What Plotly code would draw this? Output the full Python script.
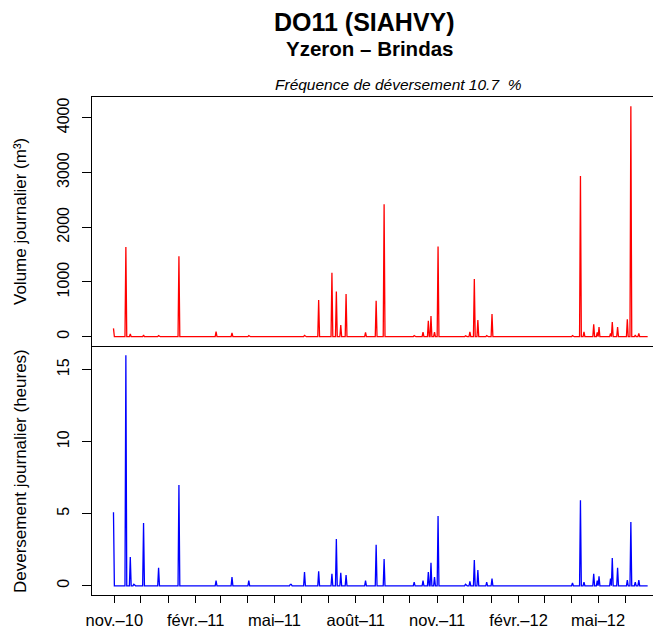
import pandas as pd
import plotly.graph_objects as go

# ---- data ----
event_dates = [
    "2010-10-31", "2010-11-14", "2010-11-19", "2010-11-23", "2010-12-04",
    "2010-12-21", "2011-01-13", "2011-02-24", "2011-03-14", "2011-04-02",
    "2011-05-19", "2011-05-20", "2011-06-04", "2011-06-20", "2011-07-05",
    "2011-07-10", "2011-07-15", "2011-07-21", "2011-08-12", "2011-08-24",
    "2011-09-02", "2011-10-06", "2011-10-16", "2011-10-22", "2011-10-25",
    "2011-10-29", "2011-11-02", "2011-12-03", "2011-12-08", "2011-12-13",
    "2011-12-17", "2011-12-27", "2012-01-02", "2012-04-02", "2012-04-11",
    "2012-04-15", "2012-04-26", "2012-04-30", "2012-05-02", "2012-05-15",
    "2012-05-17", "2012-05-23", "2012-06-03", "2012-06-07", "2012-06-12",
    "2012-06-16",
]
volume_m3 = [
    153, 1641, 50, 10, 30,
    20, 1471, 91, 70, 20,
    5, 5, 25, 669, 1167,
    827, 213, 778, 80, 656,
    2419, 20, 85, 292, 377,
    85, 1648, 15, 90, 1052,
    304, 20, 413, 20, 2935,
    90, 226, 80, 177, 60,
    268, 177, 317, 4211, 30,
    60,
]
duration_h = [
    5.1, 16.0, 2.0, 0.1, 4.36,
    1.25, 7.0, 0.35, 0.6, 0.35,
    0.1, 0.1, 0.95, 1.0, 0.83,
    3.25, 0.9, 0.75, 0.35, 2.84,
    1.85, 0.25, 0.35, 0.95, 1.6,
    0.6, 4.85, 0.1, 0.3, 1.78,
    1.1, 0.25, 0.5, 0.2, 5.93,
    0.25, 0.83, 0.35, 0.65, 0.5,
    1.93, 1.25, 0.4, 4.43, 0.25,
    0.4,
]
series_start = "2010-10-31"
series_end = "2012-06-26"

month_ticks = pd.date_range("2010-11-01", "2012-06-01", freq="MS")
tick_labels = ["nov.\u201310", "", "", "f\u00e9vr.\u201311", "", "", "mai\u201311", "", "",
               "ao\u00fbt\u201311", "", "", "nov.\u201311", "", "", "f\u00e9vr.\u201312", "", "",
               "mai\u201312", ""]

title_main = "DO11 (SIAHVY)"
title_sub = "Yzeron \u2013 Brindas"
title_freq = "Fr\u00e9quence de d\u00e9versement 10.7  %"

# ---- build daily series ----
days = pd.date_range(series_start, series_end, freq="D")
vol = pd.Series(0.0, index=days)
hrs = pd.Series(0.0, index=days)
idx = pd.to_datetime(event_dates)
vol.loc[idx] = volume_m3
hrs.loc[idx] = duration_h

FONT = "Liberation Sans, Arial, sans-serif"
OFF = 8  # default page body margin
W, H = 661 - OFF, 642 - OFF
L, R, T, B = 92 - OFF, 0, 97 - OFF, 47

fig = go.Figure()
fig.add_trace(go.Scatter(x=days, y=vol.values, mode="lines", xaxis="x2", yaxis="y2",
                         line=dict(color="#ff0000", width=1.3), showlegend=False,
                         hoverinfo="x+y"))
fig.add_trace(go.Scatter(x=days, y=hrs.values, mode="lines", xaxis="x", yaxis="y",
                         line=dict(color="#0000ff", width=1.3), showlegend=False,
                         hoverinfo="x+y"))

xr = ["2010-10-06 17:00", "2012-07-11 02:00"]
axis_common = dict(showgrid=False, zeroline=False, showline=True, linecolor="black",
                   linewidth=1.4)

fig.update_layout(
    width=W, height=H,
    margin=dict(l=L, r=R, t=T, b=B, pad=0),
    paper_bgcolor="white", plot_bgcolor="white",
    font=dict(family=FONT, color="black", size=16),
    xaxis=dict(domain=[0, 1], anchor="y", type="date", range=xr,
               tickmode="array", tickvals=list(month_ticks), ticktext=tick_labels,
               ticks="outside", ticklen=7, tickwidth=1, tickcolor="black",
               tickfont=dict(size=16.5, family=FONT, color="black"),
               ticklabelstandoff=3, mirror=False, **axis_common),
    xaxis2=dict(domain=[0, 1], anchor="y2", type="date", range=xr, matches="x",
                showticklabels=False, ticks="", mirror=True, **axis_common),
    yaxis=dict(domain=[0, 0.5], anchor="x", range=[-0.64, 16.64],
               tickmode="array", tickvals=[0, 5, 10, 15], ticktext=["0", "5", "10", "15"],
               ticks="outside", ticklen=9, tickwidth=1, tickcolor="black",
               tickangle=-90, tickfont=dict(size=16, family=FONT, color="black"),
               ticklabelstandoff=6, **axis_common),
    yaxis2=dict(domain=[0.5, 1], anchor="x2", range=[-170, 4380],
                tickmode="array", tickvals=[0, 1000, 2000, 3000, 4000],
                ticktext=["0", "1000", "2000", "3000", "4000"],
                ticks="outside", ticklen=9, tickwidth=1, tickcolor="black",
                tickangle=-90, tickfont=dict(size=16, family=FONT, color="black"),
                ticklabelstandoff=6, **axis_common),
)

def px_x(p):  # screen pixel -> paper x
    return (p - OFF - L) / (W - L - R)

def px_y(p):  # screen pixel -> paper y
    return (H - B - (p - OFF)) / (H - T - B)

ann = [
    dict(text="<b>" + title_main + "</b>", x=px_x(364), y=px_y(22.5), font=dict(size=25)),
    dict(text="<b>" + title_sub + "</b>", x=px_x(369.5), y=px_y(48), font=dict(size=20.5)),
    dict(text="<i>" + title_freq + "</i>", x=px_x(398), y=px_y(85), font=dict(size=15.5)),
    dict(text="Volume journalier (m\u00b3)", x=px_x(20), y=px_y(222), textangle=-90,
         font=dict(size=17)),
    dict(text="Deversement journalier (heures)", x=px_x(20), y=px_y(471), textangle=-90,
         font=dict(size=17)),
]
for a in ann:
    a.update(xref="paper", yref="paper", showarrow=False, xanchor="center", yanchor="middle")
    a["font"].update(family=FONT, color="black")
fig.update_layout(annotations=ann)

fig.write_html("out.html")
